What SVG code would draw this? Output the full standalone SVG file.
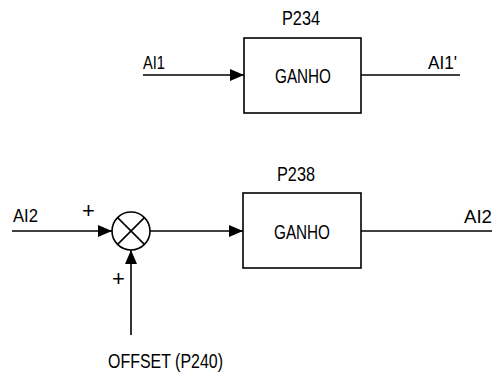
<svg xmlns="http://www.w3.org/2000/svg" width="496" height="372" viewBox="0 0 496 372">
<defs>
<marker id="ah" markerWidth="14" markerHeight="12" refX="14" refY="6" orient="auto" markerUnits="userSpaceOnUse">
<path d="M0,0 L14,6 L0,12 Z" fill="#000"/>
</marker>
<style>
text{font-family:"Liberation Sans",Arial,sans-serif;fill:#000}
.ln{stroke:#000;stroke-width:1.6;fill:none}
.bx{stroke:#000;stroke-width:1.6;fill:#fff}
.g{font-size:21px}
.p{font-size:19.5px}
.s{font-size:17.5px}
.pl{font-size:22px}
</style>
</defs>
<g id="connectors">
<line class="ln" x1="143" y1="75" x2="244" y2="75" marker-end="url(#ah)"/>
<line class="ln" x1="361" y1="75" x2="460" y2="75"/>
<line class="ln" x1="12" y1="231" x2="112" y2="231" marker-end="url(#ah)"/>
<line class="ln" x1="131" y1="335" x2="131" y2="250" marker-end="url(#ah)"/>
<line class="ln" x1="150" y1="231" x2="243" y2="231" marker-end="url(#ah)"/>
<line class="ln" x1="361" y1="231" x2="492" y2="231"/>
</g>
<g id="box1">
<rect class="bx" x="244" y="38" width="117" height="75"/>
<text class="g" x="275" y="83" textLength="56" lengthAdjust="spacingAndGlyphs">GANHO</text>
<text class="p" x="282" y="25" textLength="38" lengthAdjust="spacingAndGlyphs">P234</text>
</g>
<g id="box2">
<rect class="bx" x="243" y="193" width="118" height="75"/>
<text class="g" x="274" y="239" textLength="56" lengthAdjust="spacingAndGlyphs">GANHO</text>
<text class="p" x="277" y="181" textLength="38" lengthAdjust="spacingAndGlyphs">P238</text>
</g>
<g id="sum">
<circle class="bx" cx="131" cy="231" r="19"/>
<line class="ln" x1="117.6" y1="217.6" x2="144.4" y2="244.4"/>
<line class="ln" x1="144.4" y1="217.6" x2="117.6" y2="244.4"/>
</g>
<g id="labels">
<text class="s" x="143" y="68.5" textLength="22" lengthAdjust="spacingAndGlyphs">AI1</text>
<text class="s" x="428" y="68.5" textLength="29" lengthAdjust="spacingAndGlyphs">AI1'</text>
<text class="s" x="13" y="222" textLength="25" lengthAdjust="spacingAndGlyphs">AI2</text>
<text class="s" x="464" y="223" textLength="28" lengthAdjust="spacingAndGlyphs">AI2</text>
<text class="pl" x="88.5" y="218" text-anchor="middle">+</text>
<text class="pl" x="118.5" y="286" text-anchor="middle">+</text>
<text class="p" x="108" y="367.5" textLength="115" lengthAdjust="spacingAndGlyphs">OFFSET (P240)</text>
</g>
</svg>
